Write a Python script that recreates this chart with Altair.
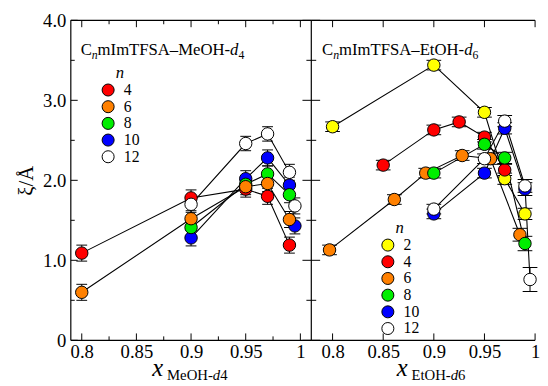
import altair as alt
import pandas as pd

FONT = "'Liberation Serif', 'Times New Roman', Times, serif"

# ---------------- data: left panel (CnmImTFSA-MeOH-d4) ----------------
meoh_n = ["4", "6", "8", "10", "12"]
meoh_x_4 = [0.80, 0.90, 0.95, 0.97, 0.99]
meoh_y_4 = [1.09, 1.78, 1.89, 1.80, 1.19]
meoh_e_4 = [0.10, 0.10, 0.10, 0.10, 0.10]
meoh_x_6 = [0.80, 0.90, 0.95, 0.97, 0.99]
meoh_y_6 = [0.60, 1.52, 1.92, 1.96, 1.51]
meoh_e_6 = [0.10, 0.10, 0.10, 0.10, 0.10]
meoh_x_8 = [0.90, 0.95, 0.97, 0.99]
meoh_y_8 = [1.41, 1.95, 2.08, 1.82]
meoh_e_8 = [0.10, 0.10, 0.10, 0.10]
meoh_x_10 = [0.90, 0.95, 0.97, 0.99, 0.995]
meoh_y_10 = [1.28, 2.02, 2.28, 1.94, 1.43]
meoh_e_10 = [0.10, 0.10, 0.10, 0.10, 0.10]
meoh_x_12 = [0.90, 0.95, 0.97, 0.99, 0.995]
meoh_y_12 = [1.70, 2.46, 2.58, 2.10, 1.68]
meoh_e_12 = [0.10, 0.09, 0.09, 0.10, 0.10]

# ---------------- data: right panel (CnmImTFSA-EtOH-d6) ----------------
etoh_n = ["2", "4", "6", "8", "10", "12"]
etoh_x_2 = [0.80, 0.90, 0.95, 0.97, 0.99]
etoh_y_2 = [2.67, 3.44, 2.85, 2.02, 1.58]
etoh_e_2 = [0.06, 0.06, 0.06, 0.07, 0.07]
etoh_x_4 = [0.85, 0.90, 0.925, 0.95, 0.97]
etoh_y_4 = [2.19, 2.63, 2.73, 2.54, 2.13]
etoh_e_4 = [0.06, 0.06, 0.06, 0.06, 0.07]
etoh_x_6 = [0.797, 0.861, 0.892, 0.928, 0.956, 0.985]
etoh_y_6 = [1.13, 1.76, 2.09, 2.31, 2.27, 1.32]
etoh_e_6 = [0.06, 0.06, 0.06, 0.06, 0.07, 0.08]
etoh_x_8 = [0.90, 0.95, 0.97, 0.99]
etoh_y_8 = [2.09, 2.45, 2.28, 1.21]
etoh_e_8 = [0.06, 0.06, 0.07, 0.09]
etoh_x_10 = [0.90, 0.95, 0.97, 0.99]
etoh_y_10 = [1.58, 2.09, 2.65, 1.89]
etoh_e_10 = [0.06, 0.06, 0.07, 0.08]
etoh_x_12 = [0.90, 0.95, 0.97, 0.99, 0.995]
etoh_y_12 = [1.64, 2.27, 2.74, 1.93, 0.76]
etoh_e_12 = [0.06, 0.06, 0.07, 0.08, 0.15]

fill_colors = {"2": "#ffff00", "4": "#ff0000", "6": "#ff8000",
               "8": "#00ee00", "10": "#0000ff", "12": "#ffffff"}

y_major = [0, 1, 2, 3, 4]
y_minor = [0.5, 1.5, 2.5, 3.5]
x_major = [0.80, 0.85, 0.90, 0.95, 1.00]
x_minor = [0.825, 0.875, 0.925, 0.975]

H = 326
W_L = 245
W_R = 228


def build_df(series):
    rows = []
    for z, (n, xs, ys, es) in enumerate(series):
        for x, y, e in zip(xs, ys, es):
            rows.append(dict(n=n, x=x, y=y, lo=y - e, hi=y + e, z=z))
    return pd.DataFrame(rows)


left_df = build_df([
    ("4", meoh_x_4, meoh_y_4, meoh_e_4),
    ("10", meoh_x_10, meoh_y_10, meoh_e_10),
    ("8", meoh_x_8, meoh_y_8, meoh_e_8),
    ("6", meoh_x_6, meoh_y_6, meoh_e_6),
    ("12", meoh_x_12, meoh_y_12, meoh_e_12),
])
right_df = build_df([
    ("2", etoh_x_2, etoh_y_2, etoh_e_2),
    ("4", etoh_x_4, etoh_y_4, etoh_e_4),
    ("6", etoh_x_6, etoh_y_6, etoh_e_6),
    ("10", etoh_x_10, etoh_y_10, etoh_e_10),
    ("8", etoh_x_8, etoh_y_8, etoh_e_8),
    ("12", etoh_x_12, etoh_y_12, etoh_e_12),
])

one = pd.DataFrame({"k": [0]})

y_scale = alt.Scale(domain=[0, 4], nice=False, zero=False)
xl_scale = alt.Scale(domain=[0.790, 1.010], nice=False, zero=False)
xr_scale = alt.Scale(domain=[0.779, 1.000], nice=False, zero=False)

y_axis_left = alt.Axis(values=y_major, ticks=False, domain=False, grid=False,
                       labelExpr="datum.value == 0 ? '0' : format(datum.value, '.1f')",
                       labelFont=FONT, labelFontSize=19, labelColor="black",
                       labelPadding=5, title="ξ/Å", titleFont=FONT, titleFontSize=21,
                       titleFontWeight="normal", titleColor="black", titlePadding=6)
x_axis = alt.Axis(values=x_major, ticks=False, domain=False, grid=False,
                  labelExpr="'' + datum.value", labelFlush=False, labelOverlap=False,
                  labelFont=FONT, labelFontSize=19, labelColor="black",
                  labelPadding=3, title=None)


def legend(lx, ly):
    return alt.Legend(title="n", orient="none", legendX=lx, legendY=ly,
                      titleFont=FONT, titleFontStyle="italic", titleFontWeight="normal",
                      titleFontSize=17, titleColor="black", titleAnchor="middle",
                      titlePadding=0, labelFont=FONT, labelFontSize=16,
                      labelColor="black", labelOffset=8, symbolType="circle",
                      symbolSize=150, symbolStrokeColor="black", symbolStrokeWidth=1,
                      symbolOpacity=1, rowPadding=-2, padding=0, offset=0)


def texts(segs):
    out = []
    for txt, x, y, size, style in segs:
        out.append(alt.Chart(one).mark_text(text=txt, font=FONT, fontSize=size,
                                            fontStyle=style, align="left",
                                            baseline="alphabetic", color="black")
                   .encode(x=alt.value(x), y=alt.value(y)))
    return out


def panel(df, ns, xscale, xaxis, yaxis, W, left_panel, leg, label_segs, title_segs, cap):
    X = lambda f: alt.X(f, type="quantitative", scale=xscale, axis=xaxis)
    if yaxis is None:
        Y = lambda f: alt.Y(f, type="quantitative", scale=y_scale, axis=None)
    else:
        Y = lambda f: alt.Y(f, type="quantitative", scale=y_scale, axis=yaxis)

    layers = []
    rule = dict(color="black", strokeWidth=1.2)
    # frame
    layers.append(alt.Chart(one).mark_rule(**rule).encode(
        x=alt.value(0), x2=alt.value(W), y=alt.value(0)))
    layers.append(alt.Chart(one).mark_rule(**rule).encode(
        x=alt.value(0), x2=alt.value(W), y=alt.value(H)))
    if left_panel:
        layers.append(alt.Chart(one).mark_rule(**rule).encode(
            x=alt.value(0), y=alt.value(0), y2=alt.value(H)))
        layers.append(alt.Chart(one).mark_rule(**rule).encode(
            x=alt.value(W), y=alt.value(0), y2=alt.value(H)))
    ymaj = pd.DataFrame({"v": y_major})
    ymin = pd.DataFrame({"v": y_minor})
    xmaj = pd.DataFrame({"v": x_major})
    xmin = pd.DataFrame({"v": x_minor})
    tk = dict(color="black", strokeWidth=1)
    if left_panel:
        layers.append(alt.Chart(ymaj).mark_rule(**tk).encode(
            y=Y("v"), x=alt.value(0), x2=alt.value(7)))
        layers.append(alt.Chart(ymin).mark_rule(**tk).encode(
            y=Y("v"), x=alt.value(0), x2=alt.value(4)))
        for d, L in ((xmaj, 7), (xmin, 4)):
            layers.append(alt.Chart(d).mark_rule(**tk).encode(
                x=X("v"), y=alt.value(H), y2=alt.value(H - L)))
            layers.append(alt.Chart(d).mark_rule(**tk).encode(
                x=X("v"), y=alt.value(0), y2=alt.value(L)))
    else:
        layers.append(alt.Chart(ymaj).mark_rule(**tk).encode(
            y=Y("v"), x=alt.value(-9), x2=alt.value(9)))
        layers.append(alt.Chart(ymin).mark_rule(**tk).encode(
            y=Y("v"), x=alt.value(-5), x2=alt.value(5)))
        layers.append(alt.Chart(xmaj).mark_rule(**tk).encode(
            x=X("v"), y=alt.value(H), y2=alt.value(H - 7)))
        layers.append(alt.Chart(xmaj).mark_rule(**tk).encode(
            x=X("v"), y=alt.value(0), y2=alt.value(7)))

    base = alt.Chart(df)
    layers.append(base.mark_line(color="black", strokeWidth=1.1).encode(
        x=X("x"), y=Y("y"), detail="n:N", order="x:Q"))
    layers.append(base.mark_rule(color="black", strokeWidth=1).encode(
        x=X("x"), y=Y("lo"), y2="hi"))
    layers.append(base.mark_tick(orient="horizontal", size=cap, thickness=1,
                                 color="black", opacity=1).encode(x=X("x"), y=Y("lo")))
    layers.append(base.mark_tick(orient="horizontal", size=cap, thickness=1,
                                 color="black", opacity=1).encode(x=X("x"), y=Y("hi")))
    layers.append(base.mark_circle(size=160, stroke="black", strokeWidth=1, opacity=1).encode(
        x=X("x"), y=Y("y"),
        fill=alt.Fill("n:N", scale=alt.Scale(domain=ns, range=[fill_colors[k] for k in ns]),
                      legend=leg),
        order=alt.Order("z:Q")))
    layers += texts(label_segs)
    layers += texts(title_segs)
    return alt.layer(*layers).properties(width=W, height=H)


left = panel(
    left_df, meoh_n, xl_scale, x_axis, y_axis_left, W_L, True, legend(30, 46),
    [("C", 10, 35, 17, "normal"), ("n", 21.3, 39, 12, "italic"),
     ("mImTFSA–MeOH-", 27.3, 35, 17, "normal"), ("d", 162.3, 35, 17, "italic"),
     ("4", 170.8, 39, 12, "normal")],
    [("x", 83, 362, 25, "italic"), ("MeOH-", 98, 366, 15, "normal"),
     ("d", 144.7, 366, 15, "italic"), ("4", 152.2, 366, 15, "normal")],
    11)

right = panel(
    right_df, etoh_n, xr_scale, x_axis, None, W_R, False, legend(70, 204),
    [("C", 11, 35, 17, "normal"), ("n", 22.3, 39, 12, "italic"),
     ("mImTFSA–EtOH-", 28.3, 35, 17, "normal"), ("d", 155.8, 35, 17, "italic"),
     ("6", 164.3, 39, 12, "normal")],
    [("x", 87, 362, 25, "italic"), ("EtOH-", 102, 366, 15, "normal"),
     ("d", 142, 366, 15, "italic"), ("6", 149.5, 366, 15, "normal")],
    15)

chart = (alt.hconcat(left, right, spacing=0, bounds="flush")
         .resolve_scale(fill="independent")
         .properties(padding={"left": 8, "top": 0, "right": 0, "bottom": 0})
         .configure_view(stroke=None))

chart.save("out.html", embed_options={"renderer": "svg", "actions": False})
